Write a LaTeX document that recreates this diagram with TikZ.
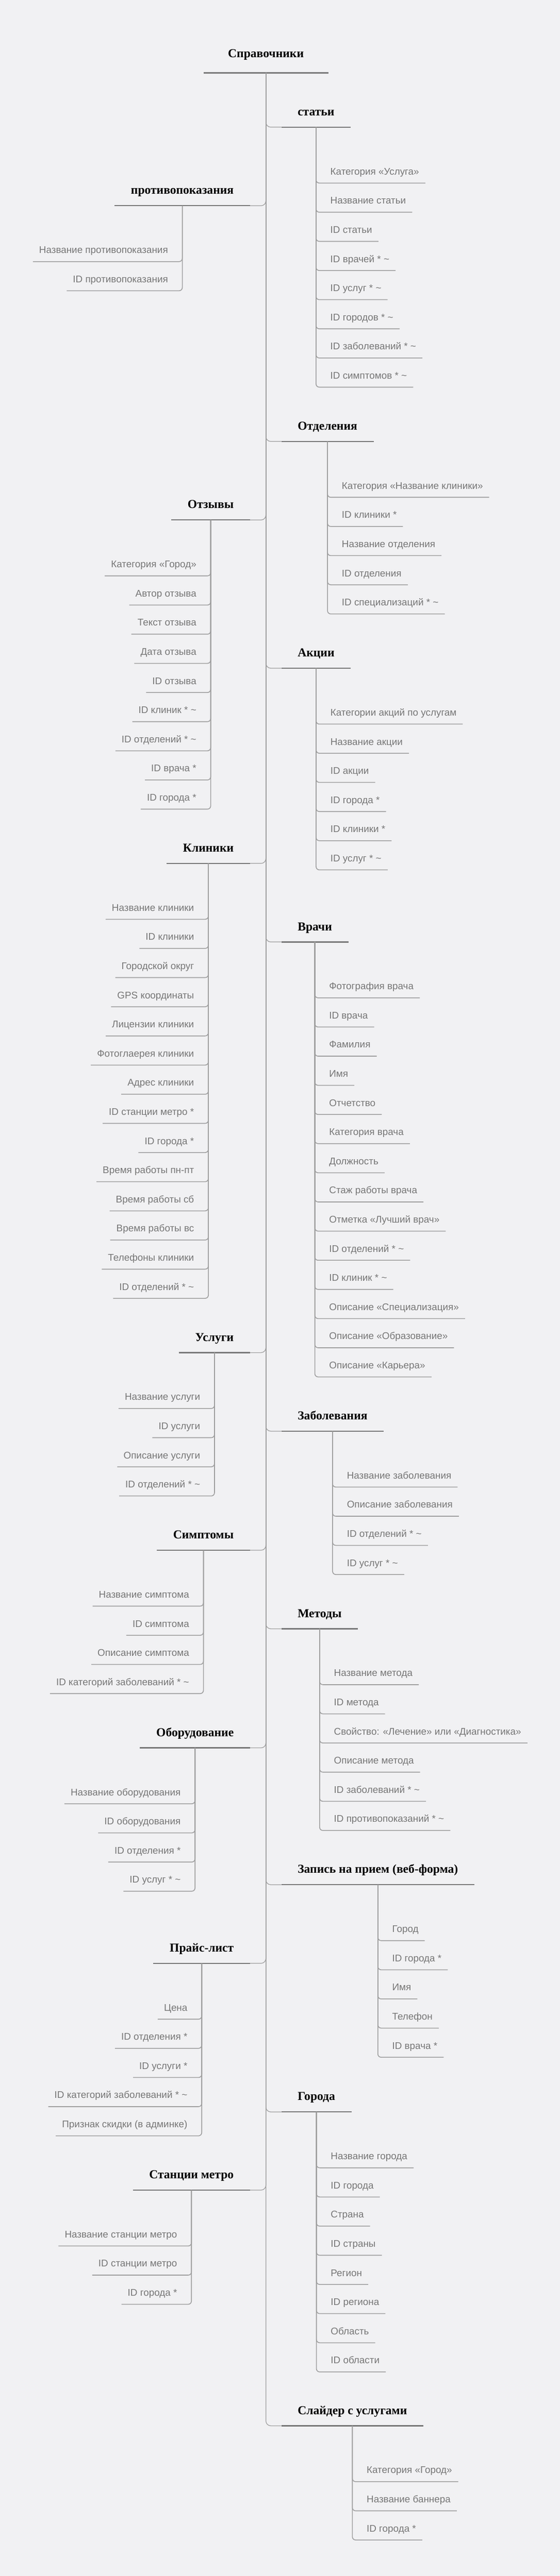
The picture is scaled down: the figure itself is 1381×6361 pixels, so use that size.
\documentclass[tikz,border=0pt]{standalone}
\usepackage{fontspec}
\setmainfont{Liberation Serif}
\setsansfont{Liberation Sans}
\definecolor{bggrey}{RGB}{241,241,243}
\definecolor{itemgrey}{RGB}{118,118,118}
\definecolor{linegrey}{RGB}{158,158,158}
\definecolor{grpgrey}{RGB}{120,120,120}

\begin{document}
\begin{tikzpicture}[x=0.5pt,y=-0.5pt,
  topbox/.style={font=\bfseries\fontsize{15}{18}\selectfont, inner xsep=30pt, inner ysep=0pt, text depth=19pt, anchor=south},
  grp/.style={font=\bfseries\fontsize{15}{18}\selectfont, inner xsep=20pt, inner ysep=0pt, text depth=14pt},
  grpR/.style={grp, anchor=south west},
  grpL/.style={grp, anchor=south east},
  item/.style={font=\sffamily\fontsize{12}{14}\selectfont, text=itemgrey, inner xsep=7.5pt, inner ysep=0pt, text depth=10pt},
  itemR/.style={item, anchor=south west},
  itemL/.style={item, anchor=south east},
  trunkline/.style={draw=linegrey, line width=0.8pt, rounded corners=6pt},
  itemline/.style={draw=linegrey, line width=1pt, rounded corners=4pt},
  grpline/.style={draw=grpgrey, line width=1.5pt}]
\fill[bggrey] (0,0) rectangle (1381,6361);
\useasboundingbox (0,0) rectangle (1381,6361);

\node[topbox] (spr) at (656,180) {Справочники};
\draw[grpline] (spr.south west) -- (spr.south east);

% right side
\node[grpR] (st) at (694,314) {статьи};
\node[itemR] (st1) at ([shift={(20,138)}]st.south) {Категория «Услуга»};
\node[itemR] (st2) at ([shift={(0,72)}]st1.south west) {Название статьи};
\node[itemR] (st3) at ([shift={(0,72)}]st2.south west) {ID статьи};
\node[itemR] (st4) at ([shift={(0,72)}]st3.south west) {ID врачей * \textasciitilde};
\node[itemR] (st5) at ([shift={(0,72)}]st4.south west) {ID услуг * \textasciitilde};
\node[itemR] (st6) at ([shift={(0,72)}]st5.south west) {ID городов * \textasciitilde};
\node[itemR] (st7) at ([shift={(0,72)}]st6.south west) {ID заболеваний * \textasciitilde};
\node[itemR] (st8) at ([shift={(0,72)}]st7.south west) {ID симптомов * \textasciitilde};

\node[grpR] (otd) at (694,1090) {Отделения};
\node[itemR] (otd1) at ([shift={(20,138)}]otd.south) {Категория «Название клиники»};
\node[itemR] (otd2) at ([shift={(0,72)}]otd1.south west) {ID клиники *};
\node[itemR] (otd3) at ([shift={(0,72)}]otd2.south west) {Название отделения};
\node[itemR] (otd4) at ([shift={(0,72)}]otd3.south west) {ID отделения};
\node[itemR] (otd5) at ([shift={(0,72)}]otd4.south west) {ID специализаций * \textasciitilde};

\node[grpR] (akc) at (694,1650) {Акции};
\node[itemR] (akc1) at ([shift={(20,138)}]akc.south) {Категории акций по услугам};
\node[itemR] (akc2) at ([shift={(0,72)}]akc1.south west) {Название акции};
\node[itemR] (akc3) at ([shift={(0,72)}]akc2.south west) {ID акции};
\node[itemR] (akc4) at ([shift={(0,72)}]akc3.south west) {ID города *};
\node[itemR] (akc5) at ([shift={(0,72)}]akc4.south west) {ID клиники *};
\node[itemR] (akc6) at ([shift={(0,72)}]akc5.south west) {ID услуг * \textasciitilde};

\node[grpR] (vr) at (694,2326) {Врачи};
\node[itemR] (vr1) at ([shift={(20,138)}]vr.south) {Фотография врача};
\node[itemR] (vr2) at ([shift={(0,72)}]vr1.south west) {ID врача};
\node[itemR] (vr3) at ([shift={(0,72)}]vr2.south west) {Фамилия};
\node[itemR] (vr4) at ([shift={(0,72)}]vr3.south west) {Имя};
\node[itemR] (vr5) at ([shift={(0,72)}]vr4.south west) {Отчетство};
\node[itemR] (vr6) at ([shift={(0,72)}]vr5.south west) {Категория врача};
\node[itemR] (vr7) at ([shift={(0,72)}]vr6.south west) {Должность};
\node[itemR] (vr8) at ([shift={(0,72)}]vr7.south west) {Стаж работы врача};
\node[itemR] (vr9) at ([shift={(0,72)}]vr8.south west) {Отметка «Лучший врач»};
\node[itemR] (vr10) at ([shift={(0,72)}]vr9.south west) {ID отделений * \textasciitilde};
\node[itemR] (vr11) at ([shift={(0,72)}]vr10.south west) {ID клиник * \textasciitilde};
\node[itemR] (vr12) at ([shift={(0,72)}]vr11.south west) {Описание «Специализация»};
\node[itemR] (vr13) at ([shift={(0,72)}]vr12.south west) {Описание «Образование»};
\node[itemR] (vr14) at ([shift={(0,72)}]vr13.south west) {Описание «Карьера»};

\node[grpR] (zab) at (694,3534) {Заболевания};
\node[itemR] (zab1) at ([shift={(20,138)}]zab.south) {Название заболевания};
\node[itemR] (zab2) at ([shift={(0,72)}]zab1.south west) {Описание заболевания};
\node[itemR] (zab3) at ([shift={(0,72)}]zab2.south west) {ID отделений * \textasciitilde};
\node[itemR] (zab4) at ([shift={(0,72)}]zab3.south west) {ID услуг * \textasciitilde};

\node[grpR] (met) at (694,4022) {Методы};
\node[itemR] (met1) at ([shift={(20,138)}]met.south) {Название метода};
\node[itemR] (met2) at ([shift={(0,72)}]met1.south west) {ID метода};
\node[itemR] (met3) at ([shift={(0,72)}]met2.south west) {Свойство: «Лечение» или «Диагностика»};
\node[itemR] (met4) at ([shift={(0,72)}]met3.south west) {Описание метода};
\node[itemR] (met5) at ([shift={(0,72)}]met4.south west) {ID заболеваний * \textasciitilde};
\node[itemR] (met6) at ([shift={(0,72)}]met5.south west) {ID противопоказаний * \textasciitilde};

\node[grpR] (zap) at (694,4654) {Запись на прием (веб-форма)};
\node[itemR] (zap1) at ([shift={(20,138)}]zap.south) {Город};
\node[itemR] (zap2) at ([shift={(0,72)}]zap1.south west) {ID города *};
\node[itemR] (zap3) at ([shift={(0,72)}]zap2.south west) {Имя};
\node[itemR] (zap4) at ([shift={(0,72)}]zap3.south west) {Телефон};
\node[itemR] (zap5) at ([shift={(0,72)}]zap4.south west) {ID врача *};

\node[grpR] (gor) at (694,5215) {Города};
\node[itemR] (gor1) at ([shift={(20,138)}]gor.south) {Название города};
\node[itemR] (gor2) at ([shift={(0,72)}]gor1.south west) {ID города};
\node[itemR] (gor3) at ([shift={(0,72)}]gor2.south west) {Страна};
\node[itemR] (gor4) at ([shift={(0,72)}]gor3.south west) {ID страны};
\node[itemR] (gor5) at ([shift={(0,72)}]gor4.south west) {Регион};
\node[itemR] (gor6) at ([shift={(0,72)}]gor5.south west) {ID региона};
\node[itemR] (gor7) at ([shift={(0,72)}]gor6.south west) {Область};
\node[itemR] (gor8) at ([shift={(0,72)}]gor7.south west) {ID области};

\node[grpR] (sl) at (694,5990) {Слайдер с услугами};
\node[itemR] (sl1) at ([shift={(20,138)}]sl.south) {Категория «Город»};
\node[itemR] (sl2) at ([shift={(0,72)}]sl1.south west) {Название баннера};
\node[itemR] (sl3) at ([shift={(0,72)}]sl2.south west) {ID города *};

% left side
\node[grpL] (prt) at (617,508) {противопоказания};
\node[itemL] (prt1) at ([shift={(-20,138)}]prt.south) {Название противопоказания};
\node[itemL] (prt2) at ([shift={(0,72)}]prt1.south east) {ID противопоказания};

\node[grpL] (otz) at (617,1284) {Отзывы};
\node[itemL] (otz1) at ([shift={(-20,138)}]otz.south) {Категория «Город»};
\node[itemL] (otz2) at ([shift={(0,72)}]otz1.south east) {Автор отзыва};
\node[itemL] (otz3) at ([shift={(0,72)}]otz2.south east) {Текст отзыва};
\node[itemL] (otz4) at ([shift={(0,72)}]otz3.south east) {Дата отзыва};
\node[itemL] (otz5) at ([shift={(0,72)}]otz4.south east) {ID отзыва};
\node[itemL] (otz6) at ([shift={(0,72)}]otz5.south east) {ID клиник * \textasciitilde};
\node[itemL] (otz7) at ([shift={(0,72)}]otz6.south east) {ID отделений * \textasciitilde};
\node[itemL] (otz8) at ([shift={(0,72)}]otz7.south east) {ID врача *};
\node[itemL] (otz9) at ([shift={(0,72)}]otz8.south east) {ID города *};

\node[grpL] (kl) at (617,2132) {Клиники};
\node[itemL] (kl1) at ([shift={(-20,138)}]kl.south) {Название клиники};
\node[itemL] (kl2) at ([shift={(0,72)}]kl1.south east) {ID клиники};
\node[itemL] (kl3) at ([shift={(0,72)}]kl2.south east) {Городской округ};
\node[itemL] (kl4) at ([shift={(0,72)}]kl3.south east) {GPS координаты};
\node[itemL] (kl5) at ([shift={(0,72)}]kl4.south east) {Лицензии клиники};
\node[itemL] (kl6) at ([shift={(0,72)}]kl5.south east) {Фотоглаерея клиники};
\node[itemL] (kl7) at ([shift={(0,72)}]kl6.south east) {Адрес клиники};
\node[itemL] (kl8) at ([shift={(0,72)}]kl7.south east) {ID станции метро *};
\node[itemL] (kl9) at ([shift={(0,72)}]kl8.south east) {ID города *};
\node[itemL] (kl10) at ([shift={(0,72)}]kl9.south east) {Время работы пн-пт};
\node[itemL] (kl11) at ([shift={(0,72)}]kl10.south east) {Время работы сб};
\node[itemL] (kl12) at ([shift={(0,72)}]kl11.south east) {Время работы вс};
\node[itemL] (kl13) at ([shift={(0,72)}]kl12.south east) {Телефоны клиники};
\node[itemL] (kl14) at ([shift={(0,72)}]kl13.south east) {ID отделений * \textasciitilde};

\node[grpL] (usl) at (617,3340) {Услуги};
\node[itemL] (usl1) at ([shift={(-20,138)}]usl.south) {Название услуги};
\node[itemL] (usl2) at ([shift={(0,72)}]usl1.south east) {ID услуги};
\node[itemL] (usl3) at ([shift={(0,72)}]usl2.south east) {Описание услуги};
\node[itemL] (usl4) at ([shift={(0,72)}]usl3.south east) {ID отделений * \textasciitilde};

\node[grpL] (sim) at (617,3828) {Симптомы};
\node[itemL] (sim1) at ([shift={(-20,138)}]sim.south) {Название симптома};
\node[itemL] (sim2) at ([shift={(0,72)}]sim1.south east) {ID симптома};
\node[itemL] (sim3) at ([shift={(0,72)}]sim2.south east) {Описание симптома};
\node[itemL] (sim4) at ([shift={(0,72)}]sim3.south east) {ID категорий заболеваний * \textasciitilde};

\node[grpL] (obo) at (617,4316) {Оборудование};
\node[itemL] (obo1) at ([shift={(-20,138)}]obo.south) {Название оборудования};
\node[itemL] (obo2) at ([shift={(0,72)}]obo1.south east) {ID оборудования};
\node[itemL] (obo3) at ([shift={(0,72)}]obo2.south east) {ID отделения *};
\node[itemL] (obo4) at ([shift={(0,72)}]obo3.south east) {ID услуг * \textasciitilde};

\node[grpL] (pl) at (617,4848) {Прайс-лист};
\node[itemL] (pl1) at ([shift={(-20,138)}]pl.south) {Цена};
\node[itemL] (pl2) at ([shift={(0,72)}]pl1.south east) {ID отделения *};
\node[itemL] (pl3) at ([shift={(0,72)}]pl2.south east) {ID услуги *};
\node[itemL] (pl4) at ([shift={(0,72)}]pl3.south east) {ID категорий заболеваний * \textasciitilde};
\node[itemL] (pl5) at ([shift={(0,72)}]pl4.south east) {Признак скидки (в админке)};

\node[grpL] (mtr) at (617,5408) {Станции метро};
\node[itemL] (mtr1) at ([shift={(-20,138)}]mtr.south) {Название станции метро};
\node[itemL] (mtr2) at ([shift={(0,72)}]mtr1.south east) {ID станции метро};
\node[itemL] (mtr3) at ([shift={(0,72)}]mtr2.south east) {ID города *};

% trunk to the groups
\draw[trunkline] (spr.south) |- (st.south west);
\draw[trunkline] (spr.south) |- (otd.south west);
\draw[trunkline] (spr.south) |- (akc.south west);
\draw[trunkline] (spr.south) |- (vr.south west);
\draw[trunkline] (spr.south) |- (zab.south west);
\draw[trunkline] (spr.south) |- (met.south west);
\draw[trunkline] (spr.south) |- (zap.south west);
\draw[trunkline] (spr.south) |- (gor.south west);
\draw[trunkline] (spr.south) |- (sl.south west);
\draw[trunkline] (spr.south) |- (prt.south east);
\draw[trunkline] (spr.south) |- (otz.south east);
\draw[trunkline] (spr.south) |- (kl.south east);
\draw[trunkline] (spr.south) |- (usl.south east);
\draw[trunkline] (spr.south) |- (sim.south east);
\draw[trunkline] (spr.south) |- (obo.south east);
\draw[trunkline] (spr.south) |- (pl.south east);
\draw[trunkline] (spr.south) |- (mtr.south east);

% group underlines
\draw[grpline] (st.south west) -- (st.south east);
\draw[grpline] (otd.south west) -- (otd.south east);
\draw[grpline] (akc.south west) -- (akc.south east);
\draw[grpline] (vr.south west) -- (vr.south east);
\draw[grpline] (zab.south west) -- (zab.south east);
\draw[grpline] (met.south west) -- (met.south east);
\draw[grpline] (zap.south west) -- (zap.south east);
\draw[grpline] (gor.south west) -- (gor.south east);
\draw[grpline] (sl.south west) -- (sl.south east);
\draw[grpline] (prt.south west) -- (prt.south east);
\draw[grpline] (otz.south west) -- (otz.south east);
\draw[grpline] (kl.south west) -- (kl.south east);
\draw[grpline] (usl.south west) -- (usl.south east);
\draw[grpline] (sim.south west) -- (sim.south east);
\draw[grpline] (obo.south west) -- (obo.south east);
\draw[grpline] (pl.south west) -- (pl.south east);
\draw[grpline] (mtr.south west) -- (mtr.south east);

% fields, right
\draw[itemline] (st.south) |- (st1.south east);
\draw[itemline] (st.south) |- (st2.south east);
\draw[itemline] (st.south) |- (st3.south east);
\draw[itemline] (st.south) |- (st4.south east);
\draw[itemline] (st.south) |- (st5.south east);
\draw[itemline] (st.south) |- (st6.south east);
\draw[itemline] (st.south) |- (st7.south east);
\draw[itemline] (st.south) |- (st8.south east);
\draw[itemline] (otd.south) |- (otd1.south east);
\draw[itemline] (otd.south) |- (otd2.south east);
\draw[itemline] (otd.south) |- (otd3.south east);
\draw[itemline] (otd.south) |- (otd4.south east);
\draw[itemline] (otd.south) |- (otd5.south east);
\draw[itemline] (akc.south) |- (akc1.south east);
\draw[itemline] (akc.south) |- (akc2.south east);
\draw[itemline] (akc.south) |- (akc3.south east);
\draw[itemline] (akc.south) |- (akc4.south east);
\draw[itemline] (akc.south) |- (akc5.south east);
\draw[itemline] (akc.south) |- (akc6.south east);
\draw[itemline] (vr.south) |- (vr1.south east);
\draw[itemline] (vr.south) |- (vr2.south east);
\draw[itemline] (vr.south) |- (vr3.south east);
\draw[itemline] (vr.south) |- (vr4.south east);
\draw[itemline] (vr.south) |- (vr5.south east);
\draw[itemline] (vr.south) |- (vr6.south east);
\draw[itemline] (vr.south) |- (vr7.south east);
\draw[itemline] (vr.south) |- (vr8.south east);
\draw[itemline] (vr.south) |- (vr9.south east);
\draw[itemline] (vr.south) |- (vr10.south east);
\draw[itemline] (vr.south) |- (vr11.south east);
\draw[itemline] (vr.south) |- (vr12.south east);
\draw[itemline] (vr.south) |- (vr13.south east);
\draw[itemline] (vr.south) |- (vr14.south east);
\draw[itemline] (zab.south) |- (zab1.south east);
\draw[itemline] (zab.south) |- (zab2.south east);
\draw[itemline] (zab.south) |- (zab3.south east);
\draw[itemline] (zab.south) |- (zab4.south east);
\draw[itemline] (met.south) |- (met1.south east);
\draw[itemline] (met.south) |- (met2.south east);
\draw[itemline] (met.south) |- (met3.south east);
\draw[itemline] (met.south) |- (met4.south east);
\draw[itemline] (met.south) |- (met5.south east);
\draw[itemline] (met.south) |- (met6.south east);
\draw[itemline] (zap.south) |- (zap1.south east);
\draw[itemline] (zap.south) |- (zap2.south east);
\draw[itemline] (zap.south) |- (zap3.south east);
\draw[itemline] (zap.south) |- (zap4.south east);
\draw[itemline] (zap.south) |- (zap5.south east);
\draw[itemline] (gor.south) |- (gor1.south east);
\draw[itemline] (gor.south) |- (gor2.south east);
\draw[itemline] (gor.south) |- (gor3.south east);
\draw[itemline] (gor.south) |- (gor4.south east);
\draw[itemline] (gor.south) |- (gor5.south east);
\draw[itemline] (gor.south) |- (gor6.south east);
\draw[itemline] (gor.south) |- (gor7.south east);
\draw[itemline] (gor.south) |- (gor8.south east);
\draw[itemline] (sl.south) |- (sl1.south east);
\draw[itemline] (sl.south) |- (sl2.south east);
\draw[itemline] (sl.south) |- (sl3.south east);

% fields, left
\draw[itemline] (prt.south) |- (prt1.south west);
\draw[itemline] (prt.south) |- (prt2.south west);
\draw[itemline] (otz.south) |- (otz1.south west);
\draw[itemline] (otz.south) |- (otz2.south west);
\draw[itemline] (otz.south) |- (otz3.south west);
\draw[itemline] (otz.south) |- (otz4.south west);
\draw[itemline] (otz.south) |- (otz5.south west);
\draw[itemline] (otz.south) |- (otz6.south west);
\draw[itemline] (otz.south) |- (otz7.south west);
\draw[itemline] (otz.south) |- (otz8.south west);
\draw[itemline] (otz.south) |- (otz9.south west);
\draw[itemline] (kl.south) |- (kl1.south west);
\draw[itemline] (kl.south) |- (kl2.south west);
\draw[itemline] (kl.south) |- (kl3.south west);
\draw[itemline] (kl.south) |- (kl4.south west);
\draw[itemline] (kl.south) |- (kl5.south west);
\draw[itemline] (kl.south) |- (kl6.south west);
\draw[itemline] (kl.south) |- (kl7.south west);
\draw[itemline] (kl.south) |- (kl8.south west);
\draw[itemline] (kl.south) |- (kl9.south west);
\draw[itemline] (kl.south) |- (kl10.south west);
\draw[itemline] (kl.south) |- (kl11.south west);
\draw[itemline] (kl.south) |- (kl12.south west);
\draw[itemline] (kl.south) |- (kl13.south west);
\draw[itemline] (kl.south) |- (kl14.south west);
\draw[itemline] (usl.south) |- (usl1.south west);
\draw[itemline] (usl.south) |- (usl2.south west);
\draw[itemline] (usl.south) |- (usl3.south west);
\draw[itemline] (usl.south) |- (usl4.south west);
\draw[itemline] (sim.south) |- (sim1.south west);
\draw[itemline] (sim.south) |- (sim2.south west);
\draw[itemline] (sim.south) |- (sim3.south west);
\draw[itemline] (sim.south) |- (sim4.south west);
\draw[itemline] (obo.south) |- (obo1.south west);
\draw[itemline] (obo.south) |- (obo2.south west);
\draw[itemline] (obo.south) |- (obo3.south west);
\draw[itemline] (obo.south) |- (obo4.south west);
\draw[itemline] (pl.south) |- (pl1.south west);
\draw[itemline] (pl.south) |- (pl2.south west);
\draw[itemline] (pl.south) |- (pl3.south west);
\draw[itemline] (pl.south) |- (pl4.south west);
\draw[itemline] (pl.south) |- (pl5.south west);
\draw[itemline] (mtr.south) |- (mtr1.south west);
\draw[itemline] (mtr.south) |- (mtr2.south west);
\draw[itemline] (mtr.south) |- (mtr3.south west);

\end{tikzpicture}
\end{document}
